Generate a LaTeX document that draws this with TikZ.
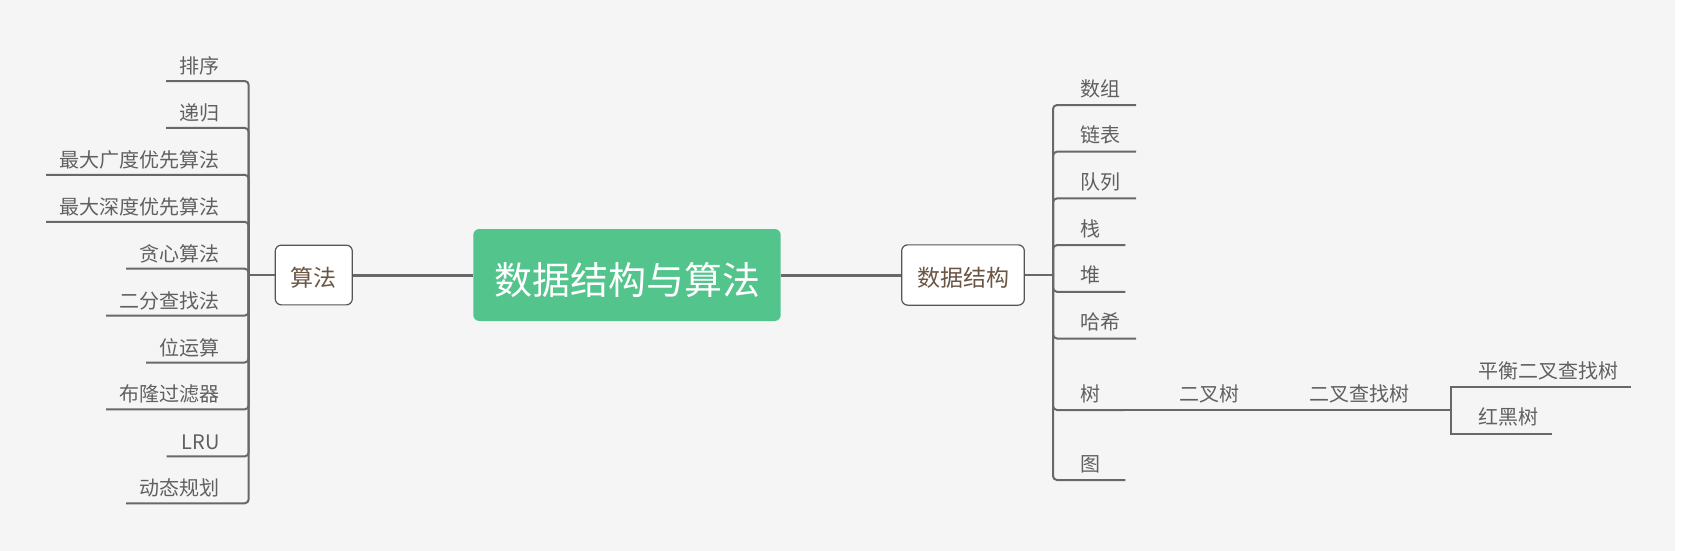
\documentclass[tikz,border=0pt]{standalone}
\usepackage{fontspec}
\setmainfont{Noto Sans CJK SC}
\definecolor{bgc}{HTML}{F5F5F5}
\definecolor{rootgreen}{HTML}{52C48C}
\definecolor{linec}{HTML}{686868}
\definecolor{leaftext}{HTML}{606060}
\definecolor{boxtext}{HTML}{6B5644}
\definecolor{boxborder}{HTML}{555555}
\tikzset{
  leaf/.style={inner sep=0pt, text=leaftext, font=\fontsize{20}{24}\selectfont},
  subbox/.style={draw=boxborder, line width=1.2pt, fill=white, rounded corners=6pt, inner sep=0pt,
    text=boxtext, font=\fontsize{23}{28}\selectfont, text height=23pt, text depth=0pt},
  rootbox/.style={fill=rootgreen, rounded corners=6pt, inner sep=0pt, text=white,
    font=\fontsize{38}{44}\selectfont, text height=38pt, text depth=0pt,
    minimum width=307.4pt, minimum height=92pt},
  mainline/.style={draw=linec, line width=3pt},
  fanline/.style={draw=linec, line width=2pt, rounded corners=4pt},
  treeline/.style={draw=linec, line width=2pt},
}
\begin{document}
\begin{tikzpicture}[x=1pt,y=-1pt]
\fill[bgc] (0,0) rectangle (1675,551);
\fill[white] (1675,0) rectangle (1686,551);
\useasboundingbox (0,0) rectangle (1686,551);

% main nodes
\node[rootbox] (root) at (627,275) {数据结构与算法};
\node[subbox, minimum width=77pt, minimum height=59.7pt] (alg) at (313.8,275) {算法};
\node[subbox, minimum width=122.6pt, minimum height=60.3pt] (ds) at (963,275) {数据结构};

\draw[mainline] (alg.east) -- (root.west);
\draw[mainline] (root.east) -- (ds.west);

% left fan
\coordinate (aj) at (248.7,275);
\draw[treeline] (alg.west) -- (aj);

\coordinate (lu1) at (166,81);
\coordinate (lu2) at (166,127.9);
\coordinate (lu3) at (46,174.8);
\coordinate (lu4) at (46,221.8);
\coordinate (lu5) at (126,268.7);
\coordinate (lu6) at (106,315.6);
\coordinate (lu7) at (146,362.5);
\coordinate (lu8) at (106,409.4);
\coordinate (lu9) at (166.7,456.4);
\coordinate (lu10) at (126,503.3);

\node[leaf, anchor=base east] (l1) at (220,73.5) {排序};
\node[leaf, anchor=base east] (l2) at (220,120.4) {递归};
\node[leaf, anchor=base east] (l3) at (220,167.3) {最大广度优先算法};
\node[leaf, anchor=base east] (l4) at (220,214.3) {最大深度优先算法};
\node[leaf, anchor=base east] (l5) at (220,261.2) {贪心算法};
\node[leaf, anchor=base east] (l6) at (220,308.1) {二分查找法};
\node[leaf, anchor=base east] (l7) at (220,355) {位运算};
\node[leaf, anchor=base east] (l8) at (220,401.9) {布隆过滤器};
\node[leaf, anchor=base east] (l9) at (220,449.2) {LRU};
\node[leaf, anchor=base east] (l10) at (220,495.8) {动态规划};

\foreach \i in {1,...,10} {\draw[fanline] (aj) |- (lu\i);}

% right fan
\coordinate (dj) at (1053,275);
\draw[treeline] (ds.east) -- (dj);

\coordinate (ru1) at (1136,105);
\coordinate (ru2) at (1136,151.7);
\coordinate (ru3) at (1136,198.4);
\coordinate (ru4) at (1125.3,245.1);
\coordinate (ru5) at (1125.3,291.8);
\coordinate (ru6) at (1136,338.5);
\coordinate (ru7) at (1124,410);
\coordinate (ru8) at (1125.3,480);

\node[leaf, anchor=base west] (r1) at (1080.5,96) {数组};
\node[leaf, anchor=base west] (r2) at (1080.5,142.7) {链表};
\node[leaf, anchor=base west] (r3) at (1080.5,189.4) {队列};
\node[leaf, anchor=base west] (r4) at (1080.5,236.1) {栈};
\node[leaf, anchor=base west] (r5) at (1080.5,282.8) {堆};
\node[leaf, anchor=base west] (r6) at (1080.5,329.5) {哈希};
\node[leaf, anchor=base west] (r7) at (1080.5,401) {树};
\node[leaf, anchor=base west] (r8) at (1080.5,471) {图};

\foreach \i in {1,...,8} {\draw[fanline] (dj) |- (ru\i);}

% tree chain
\node[leaf, anchor=base west] (bt) at (1179.5,401) {二叉树};
\node[leaf, anchor=base west] (bst) at (1309,401) {二叉查找树};
\node[leaf, anchor=base west] (avl) at (1478.5,378.3) {平衡二叉查找树};
\node[leaf, anchor=base west] (rb) at (1478.5,424.7) {红黑树};

\coordinate (btu) at (1253,410);
\coordinate (bstu) at (1423,410);
\coordinate (sp) at (1450.7,410);
\coordinate (avlu) at (1631,387.3);
\coordinate (rbu) at (1552.3,433.7);

\draw[treeline] (ru7) -- (btu);
\draw[treeline] (btu) -- (bstu);
\draw[treeline] (bstu) -- (sp);
\draw[treeline] (sp) |- (avlu);
\draw[treeline] (sp) |- (rbu);
\end{tikzpicture}
\end{document}
